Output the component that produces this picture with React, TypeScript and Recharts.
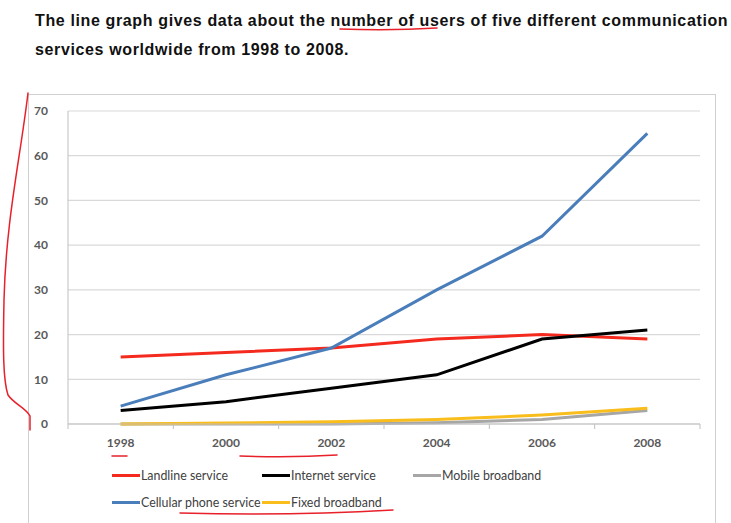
import React from 'react';
import { LineChart, Line, XAxis, YAxis, CartesianGrid } from 'recharts';

// yearly categories (labels every two years, tick marks in between)
const years = [1998, 2000, 2002, 2004, 2006, 2008];
const axisYears = [1997, 1998, 1999, 2000, 2001, 2002, 2003, 2004, 2005, 2006, 2007, 2008, 2009];
const yTicks = [0, 10, 20, 30, 40, 50, 60, 70];

// users (hundreds of millions)
const landline = [15, 16, 17, 19, 20, 19];
const internet = [3, 5, 8, 11, 19, 21];
const mobileBroadband = [0, 0, 0, 0.3, 1, 3];
const cellular = [4, 11, 17, 30, 42, 65];
const fixedBroadband = [0, 0.2, 0.5, 1, 2, 3.5];

const series = [
  { key: 'landline', name: 'Landline service', color: '#f52a1e', values: landline },
  { key: 'internet', name: 'Internet service', color: '#000000', values: internet },
  { key: 'mobile', name: 'Mobile broadband', color: '#a6a6a6', values: mobileBroadband },
  { key: 'cellular', name: 'Cellular phone service', color: '#4a7ebb', values: cellular },
  { key: 'fixed', name: 'Fixed broadband', color: '#f9bd1c', values: fixedBroadband },
];

const data = years.map((year, i) => {
  const row: Record<string, number> = { year };
  series.forEach((s) => {
    row[s.key] = s.values[i];
  });
  return row;
});

const FONT = 'Lato, "Open Sans", sans-serif';

const XTick = (props: any) => {
  const { x, y, payload } = props;
  const v = payload.value as number;
  if (v % 2 === 1) {
    return <line x1={x} y1={y} x2={x} y2={y + 5} stroke="#bfbfbf" strokeWidth={1} />;
  }
  return (
    <text x={x} y={y + 23} textAnchor="middle" fontSize={12} fontWeight={700} fill="#595959" fontFamily={FONT}>
      {v}
    </text>
  );
};

const legendRows = [
  [
    { s: series[0], x: 112 },
    { s: series[1], x: 262 },
    { s: series[2], x: 413 },
  ],
  [
    { s: series[3], x: 112 },
    { s: series[4], x: 262 },
  ],
];

// red pen marks over the slide
const penMarks = [
  'M340,29 Q390,31 437,28',
  'M28,93 C20,160 6,220 4,300 C3,350 3,380 8,395 C14,404 26,408 30,416 L30,430',
  'M112,456 L127,456',
  'M240,456 Q290,458 337,455',
  'M180,513 Q290,516 393,510',
];

const App: React.FC = () => {
  return (
    <div style={{ position: 'absolute', left: 0, top: 0, width: 731, height: 523, background: '#fff', overflow: 'hidden' }}>
      <div
        style={{
          position: 'absolute',
          left: 35,
          top: 6,
          fontFamily: '"Liberation Sans", Arial, sans-serif',
          fontWeight: 700,
          fontSize: 16,
          letterSpacing: 0.63,
          lineHeight: '29px',
          color: '#111',
          whiteSpace: 'nowrap',
        }}
      >
        <div>The line graph gives data about the number of users of five different communication</div>
        <div>services worldwide from 1998 to 2008.</div>
      </div>

      <div style={{ position: 'absolute', left: 28, top: 94, width: 688, height: 430, border: '1px solid #d0d0d0', boxSizing: 'border-box' }} />

      <div style={{ position: 'absolute', left: 0, top: 0 }}>
        <LineChart width={731} height={523} data={data} margin={{ top: 111, right: 31, bottom: 69, left: 28 }}>
          <CartesianGrid vertical={false} stroke="#d9d9d9" strokeWidth={1.2} />
          <XAxis
            dataKey="year"
            type="number"
            domain={[1997, 2009]}
            ticks={axisYears}
            interval={0}
            tick={<XTick />}
            tickLine={false}
            tickSize={0}
            tickMargin={0}
            height={30}
            stroke="#bfbfbf"
          />
          <YAxis
            domain={[0, 70]}
            ticks={yTicks}
            interval={0}
            width={40}
            tickLine={false}
            tickMargin={14}
            tick={{ fontSize: 12, fontWeight: 700, fill: '#595959', fontFamily: FONT }}
            stroke="#bfbfbf"
          />
          {series.map((s) => (
            <Line
              key={s.key}
              dataKey={s.key}
              name={s.name}
              stroke={s.color}
              strokeWidth={3}
              dot={false}
              isAnimationActive={false}
            />
          ))}
        </LineChart>
      </div>

      {legendRows.map((row, ri) =>
        row.map(({ s, x }) => (
          <div
            key={s.key}
            style={{
              position: 'absolute',
              left: x,
              top: 466 + ri * 27,
              height: 18,
              display: 'flex',
              alignItems: 'center',
              fontFamily: FONT,
              fontSize: 12.4,
              color: '#404040',
              whiteSpace: 'nowrap',
            }}
          >
            <span style={{ display: 'inline-block', width: 28, height: 3, background: s.color, marginRight: 1 }} />
            {s.name}
          </div>
        ))
      )}

      <svg width={731} height={523} style={{ position: 'absolute', left: 0, top: 0, pointerEvents: 'none' }}>
        {penMarks.map((d, i) => (
          <path key={i} d={d} fill="none" stroke="#e8202a" strokeWidth={1.5} strokeLinecap="round" />
        ))}
      </svg>
    </div>
  );
};

export default App;
